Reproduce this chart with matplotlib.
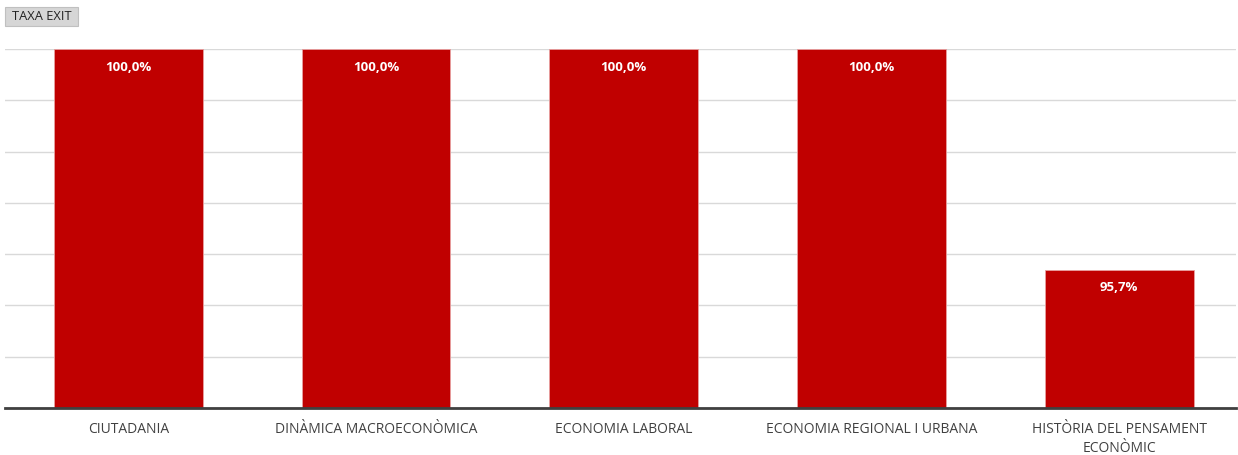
import matplotlib
matplotlib.use("Agg")
import matplotlib.pyplot as plt
from matplotlib.patches import FancyBboxPatch

categories = ["CIUTADANIA", "DINÀMICA MACROECONÒMICA", "ECONOMIA LABORAL",
              "ECONOMIA REGIONAL I URBANA", "HISTÒRIA DEL PENSAMENT\nECONÒMIC"]
values = [100.0, 100.0, 100.0, 100.0, 95.7]
value_labels = ["100,0%", "100,0%", "100,0%", "100,0%", "95,7%"]
y_min, y_max = 93, 100

plt.rcParams['font.family'] = ['Open Sans', 'DejaVu Sans']

W, H = 1238, 455
fig = plt.figure(figsize=(W / 100, H / 100), dpi=100)
ax = fig.add_axes([5 / W, 1 - 408 / H, 1231 / W, (408 - 49) / H])

x = list(range(len(categories)))
bars = ax.bar(x, values, width=0.6, color="#c00000", edgecolor="#e8a0a0",
              linewidth=0.6, zorder=3, bottom=0)
ax.set_xlim(-0.4976, 4.471)
ax.set_ylim(y_min, y_max)
ax.set_yticks(range(y_min, y_max + 1))
ax.yaxis.grid(True, color="#d9d9d9", linewidth=1.0, zorder=0)
ax.tick_params(axis="y", left=False, labelleft=False)
ax.tick_params(axis="x", length=0, pad=10, labelsize=10, labelcolor="#404040")
ax.set_xticks(x)
ax.set_xticklabels(categories, linespacing=1.38)
for s in ["top", "right", "left"]:
    ax.spines[s].set_visible(False)
ax.spines["bottom"].set_color("#404040")
ax.spines["bottom"].set_linewidth(2)
ax.spines["bottom"].set_zorder(4)

for xi, v, lab in zip(x, values, value_labels):
    ax.annotate(lab, (xi, v), xytext=(0, -13), textcoords="offset points",
                ha="center", va="center", color="white", fontsize=9.5,
                fontweight="bold", zorder=5)

# "TAXA EXIT" button
btn = FancyBboxPatch((5 / W, 1 - 26 / H), 73 / W, 19 / H,
                     boxstyle="square,pad=0", transform=fig.transFigure,
                     facecolor="#d6d6d6", edgecolor="#c0c0c0", linewidth=0.8)
fig.patches.append(btn)
fig.text(42 / W, 1 - 16.5 / H, "TAXA EXIT", ha="center", va="center",
         fontsize=9.3, color="#222222")

fig.savefig("out.png", dpi=100)
